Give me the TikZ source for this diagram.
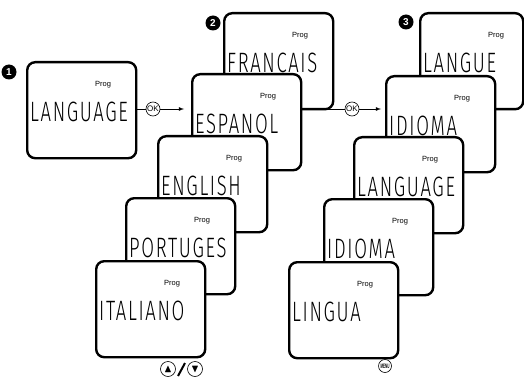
\documentclass[tikz,border=0pt]{standalone}
\usepackage{amssymb}
\usepackage{fontspec}
\setsansfont{Liberation Sans}
\newfontfamily\lcdfont{Fira Sans Light}[LetterSpace=9]
\usetikzlibrary{positioning,calc}

\newcommand{\lcdtext}[1]{\scalebox{0.66}[1]{\lcdfont\fontsize{28}{28}\selectfont #1}}

\tikzset{
  screen/.style={draw, line width=2.4pt, rounded corners=8pt, fill=white, anchor=north west, inner sep=0pt, style={minimum width=109pt, minimum height=96pt}},
  prog/.style={font=\sffamily\fontsize{7.5}{8}\selectfont, inner sep=0pt},
  lcd/.style={anchor=west, inner sep=0pt},
  num/.style={circle, fill=black, text=white, font=\sffamily\bfseries\fontsize{10}{10}\selectfont, inner sep=0pt, style={minimum size=15pt}},
  btn/.style={circle, draw, line width=0.6pt, fill=white, inner sep=0pt, style={minimum size=14pt}}
}

\begin{document}
\begin{tikzpicture}[x=1pt, y=1pt]
        \useasboundingbox (0,0) rectangle (524,378);

        \node[screen] (s1) at (26,317) {};
        \node[prog] (s1p) at ($(s1.north west)+(77,-24)$) {Prog};
        \node[lcd] (s1t) at ($(s1.north west)+(4,-51)$) {\lcdtext{LANGUAGE}};
        \node[num] (n1) at (9,306) {1};

        \node[screen] (fr) at (223,366) {};
        \node[prog] (frp) at ($(fr.north west)+(77,-24)$) {Prog};
        \node[lcd] (frt) at ($(fr.north west)+(4,-51)$) {\lcdtext{FRANCAIS}};
        \node[screen] (es) at (191,305) {};
        \node[prog] (esp) at ($(es.north west)+(77,-24)$) {Prog};
        \node[lcd] (est) at ($(es.north west)+(4,-51)$) {\lcdtext{ESPANOL}};
        \node[screen] (en) at (157,243) {};
        \node[prog] (enp) at ($(en.north west)+(77,-24)$) {Prog};
        \node[lcd] (ent) at ($(en.north west)+(4,-51)$) {\lcdtext{ENGLISH}};
        \node[screen] (pt) at (125,181) {};
        \node[prog] (ptp) at ($(pt.north west)+(77,-24)$) {Prog};
        \node[lcd] (ptt) at ($(pt.north west)+(4,-51)$) {\lcdtext{PORTUGES}};
        \node[screen] (it) at (95,118) {};
        \node[prog] (itp) at ($(it.north west)+(77,-24)$) {Prog};
        \node[lcd] (itt) at ($(it.north west)+(4,-51)$) {\lcdtext{ITALIANO}};
        \node[num] (n2) at (213,355) {2};

        \node[screen, style={minimum width=103pt}] (la) at (419,366) {};
        \node[prog] (lap) at ($(la.north west)+(77,-24)$) {Prog};
        \node[lcd] (lat) at ($(la.north west)+(4,-51)$) {\lcdtext{LANGUE}};
        \node[screen] (id) at (385,303) {};
        \node[prog] (idp) at ($(id.north west)+(77,-24)$) {Prog};
        \node[lcd] (idt) at ($(id.north west)+(4,-51)$) {\lcdtext{IDIOMA}};
        \node[screen] (lg) at (353,242) {};
        \node[prog] (lgp) at ($(lg.north west)+(77,-24)$) {Prog};
        \node[lcd] (lgt) at ($(lg.north west)+(4,-51)$) {\lcdtext{LANGUAGE}};
        \node[screen] (ib) at (323,180) {};
        \node[prog] (ibp) at ($(ib.north west)+(77,-24)$) {Prog};
        \node[lcd] (ibt) at ($(ib.north west)+(4,-51)$) {\lcdtext{IDIOMA}};
        \node[screen] (li) at (288,117) {};
        \node[prog] (lip) at ($(li.north west)+(77,-24)$) {Prog};
        \node[lcd] (lit) at ($(li.north west)+(4,-51)$) {\lcdtext{LINGUA}};
        \node[num] (n3) at (406,356) {3};

        \node[btn, font=\sffamily\fontsize{8}{8}\selectfont] (ok1) at (153,269) {OK};
        \node[btn, font=\sffamily\fontsize{8}{8}\selectfont] (ok2) at (352,269) {OK};
        \node[btn, style={minimum size=15pt}] (up) at (168,9) {\scalebox{1.1}{$\blacktriangle$}};
        \node[btn, style={minimum size=15pt}] (down) at (195,9) {\scalebox{1.1}{$\blacktriangledown$}};
        \node[btn, style={minimum size=13pt}, font=\sffamily\bfseries\fontsize{4}{4}\selectfont] (menu) at (385,12) {\scalebox{0.75}[1.6]{MENU}};
        \draw[line width=2pt] (178,2) -- (185,15);

        \draw[line width=0.8pt] (ok1 -| s1.east) -- (ok1.west);
        \draw[line width=0.8pt, -latex, shorten >=7pt] (ok1.east) -- (ok1 -| es.west);
        \draw[line width=0.8pt] (ok2 -| es.east) -- (ok2.west);
        \draw[line width=0.8pt, -latex, shorten >=4pt] (ok2.east) -- (ok2 -| id.west);

        \end{tikzpicture}
\end{document}
